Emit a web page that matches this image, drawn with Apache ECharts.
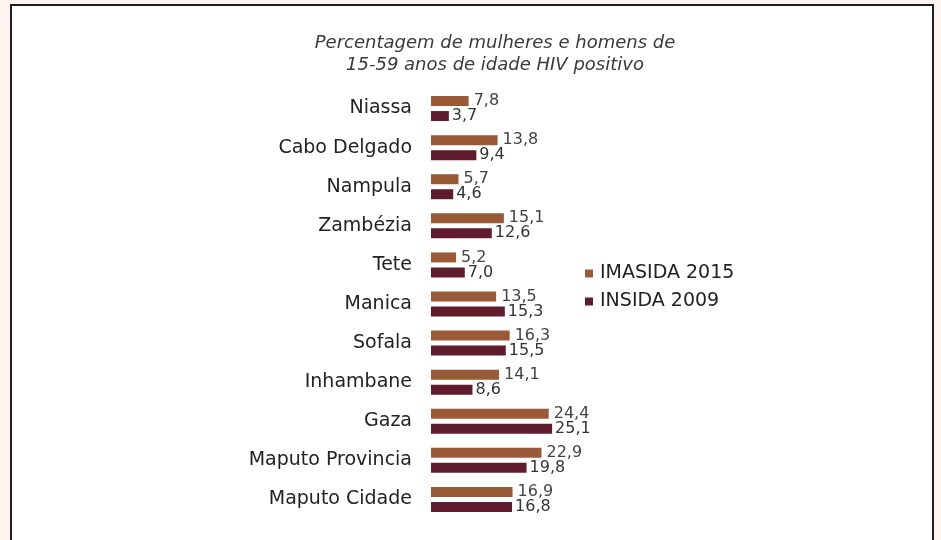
<!DOCTYPE html>
<html>
<head>
<meta charset="utf-8">
<script src="https://cdn.jsdelivr.net/npm/echarts@6/dist/echarts.min.js"></script>
<style>
  html, body {margin: 0; padding: 0; background: #fdf3ef;}
  #chart {width: 941px; height: 540px;}
</style>
</head>
<body>
<div id="chart"></div>
<script>
// provinces, top to bottom
const provinces = ['Niassa', 'Cabo Delgado', 'Nampula', 'Zambézia', 'Tete', 'Manica', 'Sofala', 'Inhambane', 'Gaza', 'Maputo Provincia', 'Maputo Cidade'];
const imasida2015 = [7.8, 13.8, 5.7, 15.1, 5.2, 13.5, 16.3, 14.1, 24.4, 22.9, 16.9];
const insida2009 = [3.7, 9.4, 4.6, 12.6, 7.0, 15.3, 15.5, 8.6, 25.1, 19.8, 16.8];
const seriesNames = ['IMASIDA 2015', 'INSIDA 2009'];

const chart = echarts.init(document.getElementById('chart'));

const fmt = p => p.value.toFixed(1).replace('.', ',');

chart.setOption({
  backgroundColor: 'transparent',
  animation: false,
  textStyle: {fontFamily: 'DejaVu Sans, sans-serif'},
  graphic: [{
    type: 'rect',
    shape: {x: 11, y: 5, width: 922, height: 560},
    style: {fill: '#fff', stroke: '#1e1e1e', lineWidth: 2},
    z: -10
  }],
  title: {
    text: 'Percentagem de mulheres e homens de\n15-59 anos de idade HIV positivo',
    left: 490,
    top: 27,
    textAlign: 'center',
    textStyle: {
      fontFamily: 'DejaVu Sans',
      fontStyle: 'italic',
      fontWeight: 'normal',
      fontSize: 18,
      lineHeight: 22,
      color: '#3a3a3a'
    }
  },
  legend: {
    data: seriesNames,
    orient: 'vertical',
    left: 580,
    top: 259,
    icon: 'rect',
    itemWidth: 8,
    itemHeight: 8,
    itemGap: 9,
    textStyle: {fontSize: 19, color: '#222', padding: [0, 0, 0, 2]}
  },
  grid: {left: 431, top: 89, width: 193, height: 430},
  xAxis: {
    type: 'value',
    min: 0,
    max: 40,
    show: false
  },
  yAxis: {
    type: 'category',
    inverse: true,
    data: provinces,
    axisLine: {show: false},
    axisTick: {show: false},
    axisLabel: {fontSize: 19, color: '#222', margin: 19}
  },
  series: [{
    name: seriesNames[0],
    type: 'bar',
    data: imasida2015,
    barWidth: 10,
    barGap: '50%',
    itemStyle: {color: '#9b5a37'},
    label: {show: true, position: 'right', distance: 5, fontSize: 16, color: '#444', formatter: fmt}
  }, {
    name: seriesNames[1],
    type: 'bar',
    data: insida2009,
    barWidth: 10,
    itemStyle: {color: '#5f1c2c'},
    label: {show: true, position: 'right', distance: 3, fontSize: 16, color: '#333', formatter: fmt}
  }]
});
</script>
</body>
</html>
